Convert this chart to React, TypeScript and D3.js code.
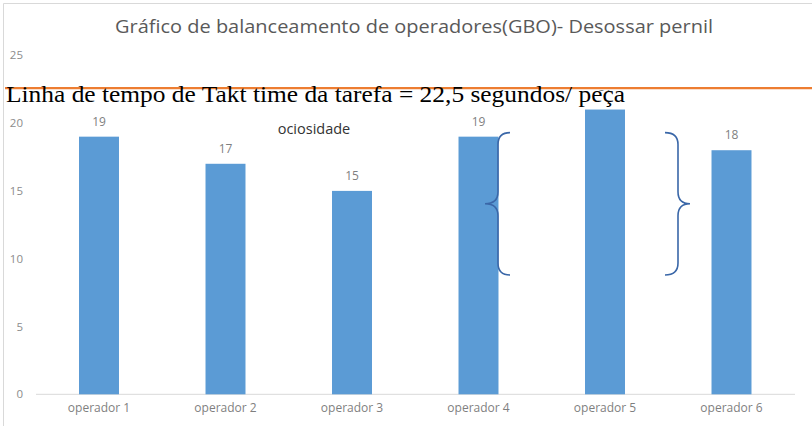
import React from 'react';
import * as d3 from 'd3';

const categories = ['operador 1', 'operador 2', 'operador 3', 'operador 4', 'operador 5', 'operador 6'];
const values = [19, 17, 15, 19, 21, 18];
const yTicks = [0, 5, 10, 15, 20, 25];
const taktTime = 22.5;
const title = 'Gráfico de balanceamento de operadores(GBO)- Desossar pernil';
const taktLabel = 'Linha de tempo de Takt time da tarefa = 22,5 segundos/ peça';
const idleLabel = 'ociosidade';
const braceSpan = [19.3, 8.8];

const W = 812;
const H = 426;

function bracePath(xe: number, xs: number, xt: number, yT: number, yB: number) {
  const yM = (yT + yB) / 2;
  const r = 12;
  return `M${xe},${yT} Q${xs},${yT} ${xs},${yT + r} L${xs},${yM - r} Q${xs},${yM} ${xt},${yM} Q${xs},${yM} ${xs},${yM + r} L${xs},${yB - r} Q${xs},${yB} ${xe},${yB}`;
}

export default function App() {
  const x = d3
    .scaleBand<string>()
    .domain(categories)
    .range([35.75, 794.75])
    .paddingInner(0.684)
    .paddingOuter(0.342);
  const y = d3.scaleLinear().domain([0, 25]).range([394.3, 55.3]);
  const bw = x.bandwidth();
  const cx = (c: string) => (x(c) as number) + bw / 2;

  const yT = y(braceSpan[0]);
  const yB = y(braceSpan[1]);
  const c4 = cx(categories[3]);
  const c5 = cx(categories[4]);
  const sans = "'Open Sans', 'Noto Sans', sans-serif";
  const serif = "'Liberation Serif', 'Times New Roman', serif";

  return (
    <svg
      width={W}
      height={H}
      viewBox={`0 0 ${W} ${H}`}
      style={{ position: 'absolute', left: 0, top: 0, display: 'block', background: '#fff' }}
    >
      <rect x={0} y={0} width={W} height={H} fill="#fff" />
      {/* frame */}
      <line x1={3.5} x2={W} y1={3.5} y2={3.5} stroke="#d9d9d9" strokeWidth={1} />
      <line x1={3.5} x2={3.5} y1={3.5} y2={H} stroke="#d9d9d9" strokeWidth={1} />

      <text
        x={414}
        y={33}
        textAnchor="middle"
        fontFamily={sans}
        fontSize={17.5}
        fill="#595959"
        textLength={598}
        lengthAdjust="spacingAndGlyphs"
      >
        {title}
      </text>

      {yTicks.map((t) => (
        <text
          key={t}
          x={23}
          y={y(t)}
          dy="0.35em"
          textAnchor="end"
          fontFamily={sans}
          fontSize={11.5}
          fill="#8c8c8c"
        >
          {t}
        </text>
      ))}

      <line x1={36} x2={795} y1={y(0)} y2={y(0)} stroke="#d9d9d9" strokeWidth={1} />

      {categories.map((c, i) => (
        <g key={c}>
          <rect x={x(c)} y={y(values[i])} width={bw} height={y(0) - y(values[i])} fill="#5b9bd5" />
          <text
            x={cx(c)}
            y={y(values[i]) - 11}
            textAnchor="middle"
            fontFamily={sans}
            fontSize={12}
            fill="#7f7f7f"
          >
            {values[i]}
          </text>
          <text
            x={cx(c)}
            y={y(0) + 18}
            textAnchor="middle"
            fontFamily={sans}
            fontSize={12}
            fill="#7f7f7f"
          >
            {c}
          </text>
        </g>
      ))}

      <text x={cx(categories[2]) - 38} y={134} textAnchor="middle" fontFamily={sans} fontSize={14.5} fill="#333333">
        {idleLabel}
      </text>

      <path d={bracePath(c4 + 31.5, c4 + 19.5, c4 + 6.5, yT, yB)} fill="none" stroke="#3a67a8" strokeWidth={1.6} />
      <path d={bracePath(c5 + 60, c5 + 73, c5 + 85, yT, yB)} fill="none" stroke="#3a67a8" strokeWidth={1.6} />

      <line x1={5} x2={W} y1={y(taktTime) - 1} y2={y(taktTime) - 1} stroke="#ed7d31" strokeWidth={2.2} />
      <rect x={5} y={91} width={625} height={18} fill="#fff" />
      <text
        x={6}
        y={102}
        fontFamily={serif}
        fontSize={23}
        fill="#000"
        textLength={619}
        lengthAdjust="spacingAndGlyphs"
      >
        {taktLabel}
      </text>
    </svg>
  );
}
